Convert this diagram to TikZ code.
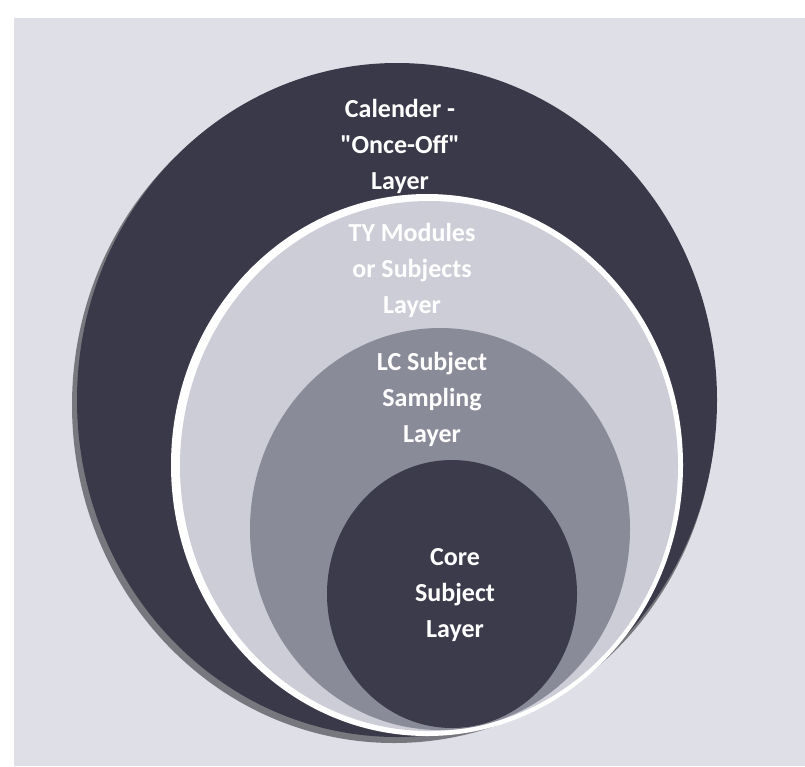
\documentclass[tikz,border=0pt]{standalone}
\usepackage{fontspec}
\setmainfont{Carlito}[Ligatures=TeXOff]
\usetikzlibrary{positioning}
\definecolor{paper}{RGB}{222,223,231}
\definecolor{outerring}{RGB}{58,57,73}
\definecolor{tyfill}{RGB}{204,205,215}
\definecolor{lcfill}{RGB}{138,139,152}
\definecolor{corefill}{RGB}{60,59,76}
\tikzset{
	every node/.style={align=center},
	layertext/.style={text=white,font=\bfseries\fontsize{26}{36}\selectfont},
}

\begin{document}
\begin{tikzpicture}[x=1pt,y=-1pt]

	% page...................
	\fill [white] (0,0) rectangle (805,766);
	\fill [paper] (14,18) rectangle (805,766);
	\useasboundingbox (0,0) rectangle (805,766);

	% calender layer..........
	\fill [black!70!outerring,opacity=0.5] (394,405) ellipse [x radius=322, y radius=338];
	\fill [outerring] (397,400) ellipse [x radius=320, y radius=337];

	% TY layer..................
	\fill [white] (427,465) ellipse [x radius=256, y radius=271];
	\fill [tyfill] (429,466) ellipse [x radius=249, y radius=265];

	% LC layer..................
	\fill [lcfill] (440,529) ellipse [x radius=190, y radius=201];

	% core layer..................
	\fill [corefill] (452,594) ellipse [x radius=125, y radius=134];

	% labels.......................
	\node [layertext] (calender) at (400,146) {Calender -\\"Once-Off"\\Layer};
	\node [layertext] (ty) at (412,270) {TY Modules\\or Subjects\\Layer};
	\node [layertext] (lc) at (432,399) {LC Subject\\Sampling\\Layer};
	\node [layertext] (core) at (455,595) {Core\\Subject\\Layer};

\end{tikzpicture}
\end{document}
